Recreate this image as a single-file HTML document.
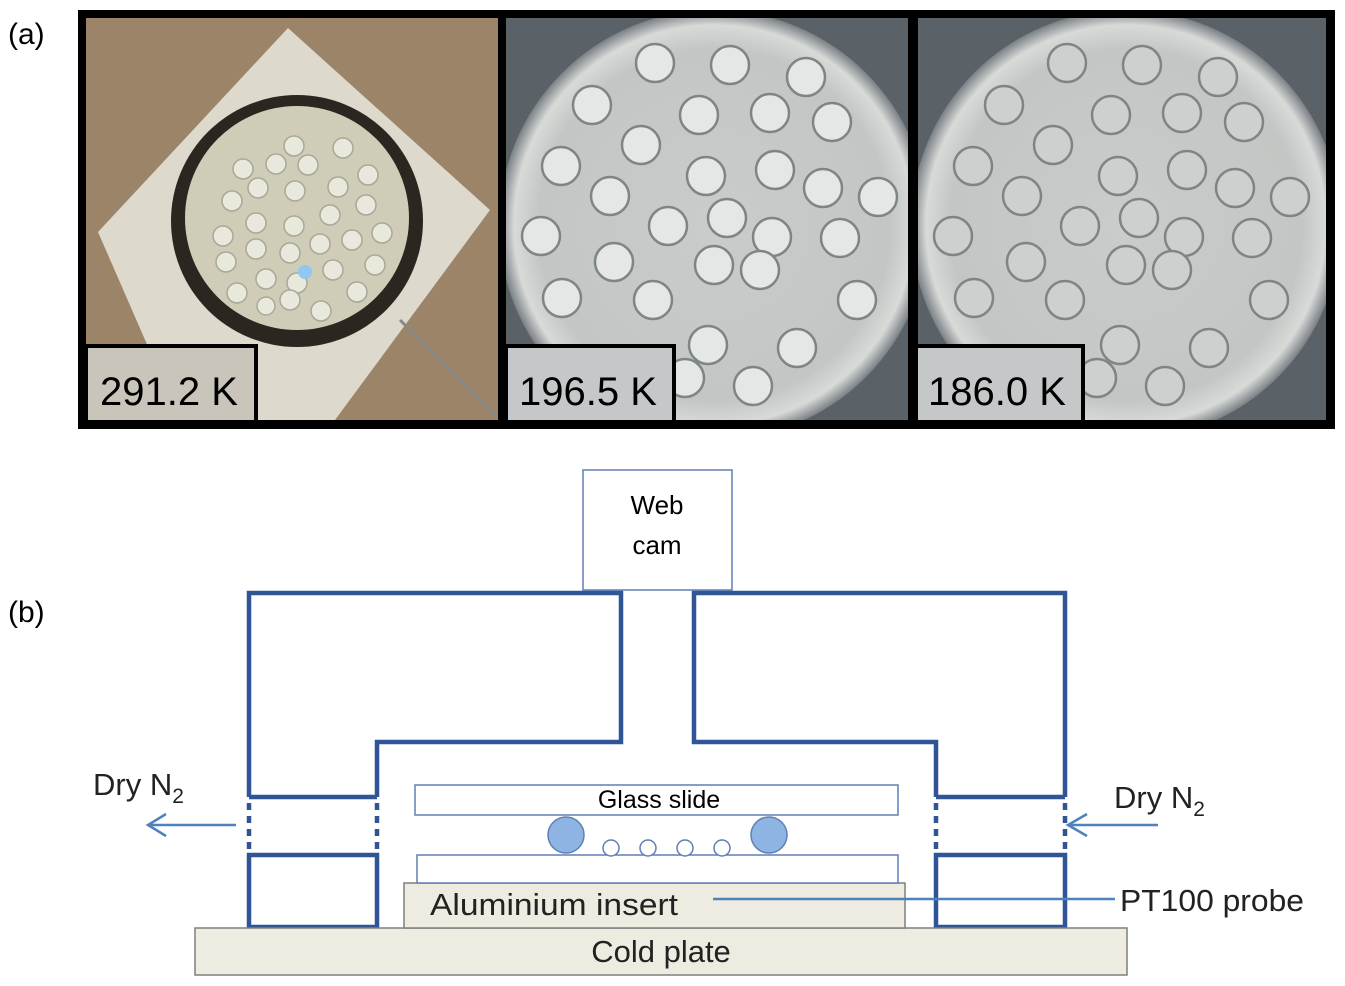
<!DOCTYPE html>
<html><head><meta charset="utf-8"><style>
html,body{margin:0;padding:0;background:#fff;}
svg{display:block;}
.c{font-family:"Liberation Sans Narrow","Liberation Sans",sans-serif;}
.a{font-family:"Liberation Sans",sans-serif;}
</style></head><body>
<svg width="1345" height="986" viewBox="0 0 1345 986" xmlns="http://www.w3.org/2000/svg">
<defs>
<radialGradient id="disk" cx="50%" cy="50%" r="50%">
<stop offset="0" stop-color="#c9ccca"/><stop offset="0.82" stop-color="#c3c6c4"/><stop offset="0.93" stop-color="#d8dad8"/><stop offset="1" stop-color="#7a8085"/>
</radialGradient>
<g id="drops" stroke="#7e8683" stroke-width="2.5">
<circle cx="592" cy="105" r="19"/><circle cx="655" cy="63" r="19"/><circle cx="730" cy="65" r="19"/><circle cx="806" cy="77" r="19"/>
<circle cx="699" cy="115" r="19"/><circle cx="770" cy="113" r="19"/><circle cx="832" cy="122" r="19"/>
<circle cx="641" cy="145" r="19"/><circle cx="561" cy="166" r="19"/><circle cx="706" cy="176" r="19"/><circle cx="775" cy="170" r="19"/>
<circle cx="823" cy="188" r="19"/><circle cx="878" cy="197" r="19"/><circle cx="610" cy="196" r="19"/>
<circle cx="668" cy="226" r="19"/><circle cx="727" cy="218" r="19"/><circle cx="772" cy="237" r="19"/><circle cx="840" cy="238" r="19"/>
<circle cx="541" cy="236" r="19"/><circle cx="614" cy="262" r="19"/><circle cx="714" cy="265" r="19"/><circle cx="562" cy="298" r="19"/>
<circle cx="653" cy="300" r="19"/><circle cx="760" cy="270" r="19"/><circle cx="857" cy="300" r="19"/><circle cx="708" cy="345" r="19"/>
<circle cx="797" cy="348" r="19"/><circle cx="753" cy="386" r="19"/><circle cx="685" cy="378" r="19"/>
</g>
</defs>
<text x="8" y="44" class="a" font-size="30">(a)</text>
<text x="8" y="622" class="a" font-size="30">(b)</text>
<rect x="78" y="10" width="1257" height="419" fill="#000"/>
<!-- panel 1 -->
<rect x="86" y="18" width="412" height="402" fill="#9c8468"/>
<polygon points="288,28 490,210 335,420 180,420 98,232" fill="#ddd9cd"/>
<line x1="400" y1="320" x2="495" y2="415" stroke="#888" stroke-width="3"/>
<circle cx="297" cy="221" r="126" fill="#2b2620"/>
<circle cx="297" cy="218" r="112" fill="#cfcdb8"/>
<g fill="#e8e8dc" stroke="#aaa796" stroke-width="1.5">
<circle cx="294" cy="146" r="10"/><circle cx="343" cy="148" r="10"/><circle cx="243" cy="169" r="10"/><circle cx="276" cy="164" r="10"/><circle cx="308" cy="165" r="10"/>
<circle cx="368" cy="175" r="10"/><circle cx="258" cy="188" r="10"/><circle cx="295" cy="191" r="10"/><circle cx="338" cy="187" r="10"/><circle cx="232" cy="201" r="10"/>
<circle cx="366" cy="205" r="10"/><circle cx="256" cy="223" r="10"/><circle cx="294" cy="226" r="10"/><circle cx="330" cy="215" r="10"/><circle cx="223" cy="236" r="10"/>
<circle cx="256" cy="249" r="10"/><circle cx="290" cy="253" r="10"/><circle cx="320" cy="244" r="10"/><circle cx="352" cy="240" r="10"/><circle cx="382" cy="233" r="10"/>
<circle cx="226" cy="262" r="10"/><circle cx="266" cy="279" r="10"/><circle cx="297" cy="283" r="10"/><circle cx="333" cy="270" r="10"/><circle cx="375" cy="265" r="10"/>
<circle cx="237" cy="293" r="10"/><circle cx="266" cy="306" r="9"/><circle cx="290" cy="300" r="10"/><circle cx="321" cy="311" r="10"/><circle cx="357" cy="292" r="10"/>
</g>
<circle cx="305" cy="272" r="7" fill="#8fc8f0"/>
<!-- panel 2 -->
<svg x="506" y="18" width="402" height="402" viewBox="506 18 402 402">
<rect x="506" y="18" width="402" height="402" fill="#5a6267"/>
<circle cx="714" cy="225" r="215" fill="url(#disk)"/>
<use href="#drops" fill="#e4e7e6"/>
</svg>
<!-- panel 3 -->
<svg x="918" y="18" width="408" height="402" viewBox="506 18 408 402">
<rect x="506" y="18" width="408" height="402" fill="#5a6267"/>
<circle cx="714" cy="225" r="215" fill="url(#disk)"/>
<use href="#drops" fill="#cdd0cf" stroke="#959c99"/>
</svg>
<!-- labels -->
<rect x="86" y="346" width="170" height="76" fill="#c9c5bb" stroke="#000" stroke-width="4"/>
<text x="100" y="405" class="c" font-size="40">291.2 K</text>
<rect x="506" y="346" width="168" height="76" fill="#c5c8c8" stroke="#000" stroke-width="4"/>
<text x="519" y="405" class="c" font-size="40">196.5 K</text>
<rect x="916" y="346" width="167" height="76" fill="#c5c8c8" stroke="#000" stroke-width="4"/>
<text x="928" y="405" class="c" font-size="40">186.0 K</text>

<!-- diagram -->
<rect x="583" y="470" width="149" height="120" fill="#fff" stroke="#5f7fb5" stroke-width="1.5"/>
<text x="657" y="514" text-anchor="middle" class="a" font-size="26">Web</text>
<text x="657" y="554" text-anchor="middle" class="a" font-size="26">cam</text>
<g fill="none" stroke="#2f5597" stroke-width="4.5">
<path d="M249,797 V593 H621 V742 H377 V797 M249,797 H377"/>
<path d="M1065,797 V593 H694 V742 H936 V797 M1065,797 H936"/>
<rect x="249" y="855" width="128" height="72"/>
<rect x="936" y="855" width="129" height="72"/>
<g stroke-dasharray="7,6"><line x1="249" y1="803" x2="249" y2="852"/><line x1="377" y1="803" x2="377" y2="852"/>
<line x1="936" y1="803" x2="936" y2="852"/><line x1="1065" y1="803" x2="1065" y2="852"/></g>
</g>
<rect x="195" y="928" width="932" height="47" fill="#eeece1" stroke="#7f7f7f" stroke-width="1.5"/>
<rect x="404" y="883" width="501" height="45" fill="#eeece1" stroke="#7f7f7f" stroke-width="1.5"/>
<rect x="417" y="855" width="481" height="28" fill="#fff" stroke="#5f7fb5" stroke-width="1.5"/>
<rect x="415" y="785" width="483" height="30" fill="#fff" stroke="#5f7fb5" stroke-width="1.5"/>
<text x="659" y="808" text-anchor="middle" class="a" font-size="25">Glass slide</text>
<ellipse cx="566" cy="835" rx="18" ry="18" fill="#8eb4e3" stroke="#5f7fb5" stroke-width="1.5"/>
<ellipse cx="769" cy="835" rx="18" ry="18" fill="#8eb4e3" stroke="#5f7fb5" stroke-width="1.5"/>
<g fill="#fff" stroke="#5f7fb5" stroke-width="1.5">
<ellipse cx="611" cy="848" rx="8" ry="8"/><ellipse cx="648" cy="848" rx="8" ry="8"/><ellipse cx="685" cy="848" rx="8" ry="8"/><ellipse cx="722" cy="848" rx="8" ry="8"/>
</g>
<text x="430" y="915" class="c" font-size="31" fill="#222" textLength="248" lengthAdjust="spacingAndGlyphs">Aluminium insert</text>
<text x="661" y="962" text-anchor="middle" class="c" font-size="31" fill="#222">Cold plate</text>
<g stroke="#4f81bd" stroke-width="2.5" fill="none">
<line x1="713" y1="899" x2="1115" y2="899"/>
<line x1="236" y1="825" x2="148" y2="825"/><polyline points="166,814 148,825 166,836"/>
<line x1="1158" y1="825" x2="1068" y2="825"/><polyline points="1087,814 1068,825 1087,836"/>
</g>
<text x="93" y="795" class="c" font-size="31" fill="#222">Dry N<tspan font-size="21" dy="8">2</tspan></text>
<text x="1114" y="808" class="c" font-size="31" fill="#222">Dry N<tspan font-size="21" dy="8">2</tspan></text>
<text x="1120" y="911" class="c" font-size="31" fill="#222" textLength="184" lengthAdjust="spacingAndGlyphs">PT100 probe</text>
</svg>
</body></html>
